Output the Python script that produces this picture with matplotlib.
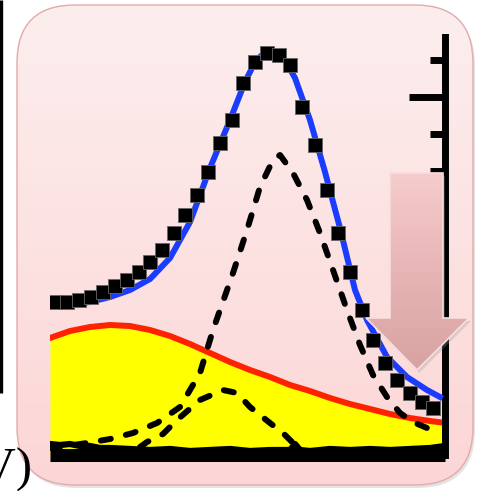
import numpy as np
import matplotlib
matplotlib.use('Agg')
import matplotlib.pyplot as plt
from matplotlib.patches import FancyBboxPatch, Polygon
from matplotlib.colors import LinearSegmentedColormap

# ---------------------------------------------------------------------------
# Data (energy in eV, intensity in arb. units)
# ---------------------------------------------------------------------------
meas_x = [0.05, 0.17, 0.29, 0.41, 0.53, 0.65, 0.77, 0.89, 1.00, 1.12, 1.24,
          1.35, 1.47, 1.58, 1.70, 1.82, 1.93, 2.05, 2.17, 2.29, 2.40, 2.52,
          2.65, 2.77, 2.88, 3.00, 3.12, 3.23, 3.35, 3.47, 3.60, 3.72, 3.83]
meas_y = [1.56, 1.56, 1.58, 1.61, 1.66, 1.72, 1.78, 1.86, 1.96, 2.08, 2.25,
          2.43, 2.63, 2.86, 3.15, 3.38, 3.75, 3.96, 4.05, 4.03, 3.93, 3.51,
          3.13, 2.68, 2.25, 1.86, 1.48, 1.18, 0.95, 0.78, 0.65, 0.56, 0.50]

fit_x = [0.0, 0.2, 0.4, 0.6, 0.8, 1.0, 1.2, 1.4, 1.6, 1.8, 1.95, 2.05, 2.15,
         2.25, 2.35, 2.45, 2.6, 2.75, 2.9, 3.05, 3.17, 3.37, 3.57, 3.77, 3.9]
fit_y = [1.53, 1.53, 1.56, 1.61, 1.68, 1.79, 2.00, 2.36, 2.90, 3.38, 3.76,
         3.96, 4.06, 4.06, 3.98, 3.80, 3.38, 2.86, 2.30, 1.68, 1.38, 1.01,
         0.81, 0.68, 0.61]

# broad background component (yellow area, red outline)
bkg_x = [0.0, 0.2, 0.4, 0.6, 0.8, 1.0, 1.2, 1.4, 1.6, 1.8, 2.0, 2.2, 2.4,
         2.6, 2.8, 3.0, 3.2, 3.4, 3.6, 3.8, 3.96]
bkg_y = [1.20, 1.27, 1.31, 1.33, 1.32, 1.28, 1.22, 1.14, 1.05, 0.96, 0.88,
         0.81, 0.73, 0.67, 0.60, 0.54, 0.49, 0.44, 0.40, 0.37, 0.35]

# main peak component
peak1_x = [0.0, 0.10, 0.37, 0.60, 0.83, 1.07, 1.30, 1.50, 1.63, 1.83, 1.97,
           2.10, 2.23, 2.30, 2.43, 2.57, 2.70, 2.83, 2.97, 3.10, 3.23, 3.37,
           3.50, 3.63, 3.77, 3.90]
peak1_y = [0.10, 0.11, 0.15, 0.19, 0.25, 0.35, 0.51, 0.85, 1.28, 1.85, 2.28,
           2.71, 2.98, 3.03, 2.85, 2.58, 2.25, 1.88, 1.48, 1.13, 0.83, 0.61,
           0.45, 0.36, 0.30, 0.25]

# small peak component
peak2_x = [0.90, 0.97, 1.13, 1.27, 1.50, 1.73, 1.87, 2.00, 2.20, 2.33, 2.43]
peak2_y = [0.11, 0.16, 0.24, 0.38, 0.58, 0.68, 0.65, 0.51, 0.35, 0.25, 0.15]

# noisy baseline
base_x = [0.0, 0.1, 0.2, 0.3, 0.4, 0.5, 0.6, 0.8, 1.0, 1.2, 1.4, 1.6, 1.8,
          2.0, 2.2, 2.4, 2.45, 2.5, 2.6, 2.8, 3.0, 3.2, 3.4, 3.6, 3.8, 3.95]
base_y = [0.14, 0.13, 0.14, 0.12, 0.12, 0.10, 0.10, 0.09, 0.08, 0.09, 0.07,
          0.08, 0.09, 0.07, 0.08, 0.08, 0.14, 0.08, 0.07, 0.09, 0.08, 0.09,
          0.08, 0.09, 0.10, 0.12]

major_ticks = [3.61, 1.75]
minor_ticks = [3.98, 3.24, 2.87, 2.50, 2.12]

unit_text = '(eV)'

# ---------------------------------------------------------------------------
# Figure and slide background (pixel coordinates)
# ---------------------------------------------------------------------------
W, H = 481, 491
fig = plt.figure(figsize=(W / 100, H / 100), dpi=100)
fig.patch.set_facecolor('white')

bg = fig.add_axes([0, 0, 1, 1])
bg.set_xlim(0, W)
bg.set_ylim(H, 0)
bg.axis('off')

# black bar at far left
bg.plot([1.5, 1.5], [0, 393], color='black', lw=2.4, solid_capstyle='butt')

# shadow + rounded pink box with vertical gradient
shadow = FancyBboxPatch((19, 8), 456, 480, boxstyle='round,pad=0,rounding_size=58',
                        facecolor='#b0b0b0', edgecolor='none', alpha=0.35)
bg.add_patch(shadow)
box = FancyBboxPatch((17, 5), 456, 480, boxstyle='round,pad=0,rounding_size=58',
                     facecolor='none', edgecolor='#e3aaaa', lw=1.0, zorder=3)
bg.add_patch(box)
box_cmap = LinearSegmentedColormap.from_list('box', ['#fdeeee', '#fcd6d6'])
grad = np.linspace(0, 1, 256).reshape(-1, 1)
im = bg.imshow(grad, cmap=box_cmap, extent=(17, 473, 485, 5), aspect='auto',
               zorder=2)
im.set_clip_path(box)

# ---------------------------------------------------------------------------
# Spectrum axes
# ---------------------------------------------------------------------------
x0, x1 = 50, 445.5
y_top, y_bot = 37.5, 455
ax = fig.add_axes([x0 / W, (H - y_bot) / H, (x1 - x0) / W, (y_bot - y_top) / H])
ax.set_facecolor('none')
ax.set_xlim(0, (x1 - x0) / 100)
ax.set_ylim(0.03, (458 - y_top) / 100)

ax.fill_between(bkg_x, bkg_y, 0, color='#ffff00', lw=0, zorder=1)
ax.plot(bkg_x, bkg_y, color='#ff2200', lw=4.3, zorder=2)
ax.plot(base_x, base_y, color='black', lw=4.5, zorder=3)
ax.plot(fit_x, fit_y, color='#1a3cff', lw=4.3, zorder=3)
for px, py in [(peak1_x, peak1_y), (peak2_x, peak2_y)]:
    ax.plot(px, py, color='black', lw=4.3, dashes=(1.7, 2.6),
            dash_capstyle='round', zorder=4)
ax.plot(meas_x, meas_y, 's', color='black', markersize=9.8,
        markeredgecolor='#666666', markeredgewidth=0.6, zorder=5)

for side in ['left', 'top']:
    ax.spines[side].set_visible(False)
ax.spines['right'].set_linewidth(5)
ax.spines['right'].set_capstyle('projecting')
ax.spines['bottom'].set_linewidth(9.4)
ax.spines['bottom'].set_capstyle('butt')

ax.set_xticks([])
ax.yaxis.tick_right()
ax.set_yticks(major_ticks)
ax.set_yticks(minor_ticks, minor=True)
ax.tick_params(axis='y', which='major', direction='in', length=26, width=5,
               color='black', labelright=False, left=False, right=True)
ax.tick_params(axis='y', which='minor', direction='in', length=11, width=5,
               color='black', labelright=False, left=False, right=True)

# ---------------------------------------------------------------------------
# Overlay: arrow and unit text
# ---------------------------------------------------------------------------
ov = fig.add_axes([0, 0, 1, 1])
ov.set_xlim(0, W)
ov.set_ylim(H, 0)
ov.axis('off')
ov.set_facecolor('none')

arrow_pts = [(390, 173), (443, 173), (443, 318), (469, 318), (417, 370),
             (366, 318), (390, 318)]
ov.add_patch(Polygon([(x + 2, y + 3) for x, y in arrow_pts], closed=True,
                     facecolor='#999999', edgecolor='none', alpha=0.3))
arrow = Polygon(arrow_pts, closed=True, facecolor='none',
                edgecolor='#f8dede', lw=1.2, zorder=3)
ov.add_patch(arrow)
arr_cmap = LinearSegmentedColormap.from_list('arr', ['#f6cccc', '#e7b5b5', '#d7a2a2'])
aim = ov.imshow(grad, cmap=arr_cmap, extent=(366, 469, 370, 173), aspect='auto',
                zorder=2)
aim.set_clip_path(arrow)

ov.text(33, 482, unit_text, ha='right', va='baseline', fontsize=35,
        family='Liberation Serif', color='black')

fig.savefig('out.png', dpi=100)
